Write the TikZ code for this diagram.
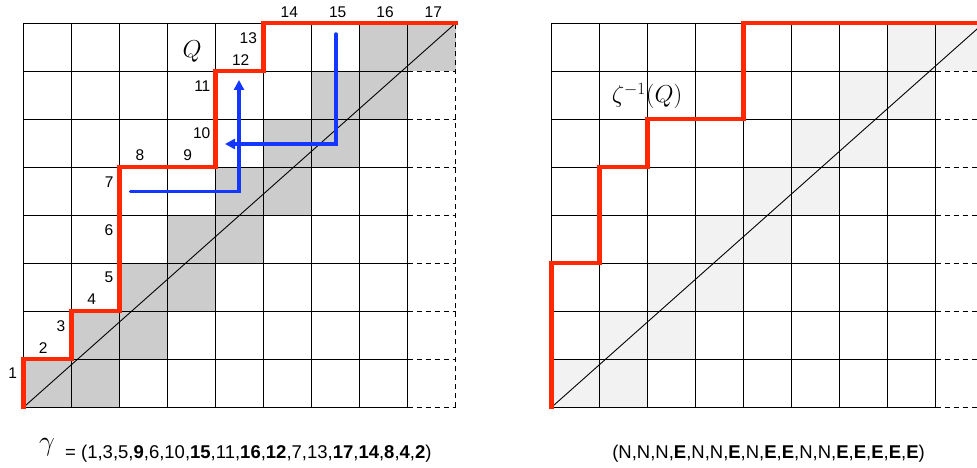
\RequirePackage{fix-cm}
\documentclass[tikz,border=0pt]{standalone}
\usepackage{fontspec}
\setmainfont{Liberation Sans}
\usetikzlibrary{arrows.meta}
\definecolor{pathred}{RGB}{255,40,0}
\definecolor{arrowblue}{RGB}{20,55,255}
\definecolor{cellgray}{RGB}{204,204,204}
\definecolor{cellpale}{RGB}{242,242,242}
\begin{document}
\begin{tikzpicture}[x=1pt,y=-1pt,
  gridline/.style={line width=1.3pt},
  dashline/.style={line width=1.3pt, dash pattern=on 5pt off 4pt},
  diagline/.style={line width=0.9pt},
  redpath/.style={draw=pathred, line width=4.2pt, line join=miter, line cap=rect},
  bluearrow/.style={draw=arrowblue, line width=3.5pt, line cap=round, line join=miter, -{Triangle[length=10pt,width=10pt]}},
  steplabel/.style={font=\fontsize{15.5}{18}\selectfont, inner sep=0pt},
  mathlabel/.style={font=\fontsize{24.5}{28}\selectfont, inner sep=0pt},
  seqtext/.style={font=\fontsize{18.5}{22}\selectfont, inner sep=0pt}
  ]
\useasboundingbox (0,0) rectangle (977,468);
\clip (0,0) rectangle (977,468);

% ---------- left grid ----------
\begin{scope}[shift={(23.5,407.3)}, x=48pt, y=48pt]
  \foreach \r in {0,...,7} \fill[cellgray] (\r,\r) rectangle (\r+2,\r+1);
  \foreach \i in {0,...,8} \draw[gridline] (\i,0) -- (\i,8);
  \foreach \j in {0,...,8} \draw[gridline] (0,\j) -- (8,\j);
  \foreach \j in {0,...,8} \draw[dashline] (8,\j) -- (9,\j);
  \draw[dashline] (9,0) -- (9,8);
  \draw[diagline] (0,0) -- (9,8);
  \draw[redpath] (0,0) -- (0,1) -- (1,1) -- (1,2) -- (2,2) -- (2,5) -- (4,5) -- (4,7) -- (5,7) -- (5,8) -- (9,8);
\end{scope}

% ---------- right grid ----------
\begin{scope}[shift={(551.5,407.3)}, x=48pt, y=48pt]
  \foreach \r in {0,...,7} \fill[cellpale] (\r,\r) rectangle (\r+2,\r+1);
  \foreach \i in {0,...,8} \draw[gridline] (\i,0) -- (\i,8);
  \foreach \j in {0,...,8} \draw[gridline] (0,\j) -- (8,\j);
  \foreach \j in {0,...,8} \draw[dashline] (8,\j) -- (9,\j);
  \draw[dashline] (9,0) -- (9,8);
  \draw[diagline] (0,0) -- (9,8);
  \draw[redpath] (0,0) -- (0,3) -- (1,3) -- (1,5) -- (2,5) -- (2,6) -- (4,6) -- (4,8) -- (9,8);
\end{scope}

% ---------- blue arrows ----------
\coordinate (a1s) at (130.5,191.7);
\coordinate (a1c) at (239,191.7);
\coordinate (a1e) at (239,80);
\draw[bluearrow] (a1s) -- (a1c) -- (a1e);
\coordinate (a2s) at (336,34);
\coordinate (a2c) at (336,144);
\coordinate (a2e) at (225,144);
\draw[bluearrow] (a2s) -- (a2c) -- (a2e);

% ---------- step labels ----------
\node[steplabel] (n1) at (12.7,373) {1};
\node[steplabel] (n2) at (43.3,347.7) {2};
\node[steplabel] (n3) at (61,326) {3};
\node[steplabel] (n4) at (91.7,299.3) {4};
\node[steplabel] (n5) at (109,277.7) {5};
\node[steplabel] (n6) at (109,230) {6};
\node[steplabel] (n7) at (109.3,181.7) {7};
\node[steplabel] (n8) at (140,155) {8};
\node[steplabel] (n9) at (187.7,155) {9};
\node[steplabel] (n10) at (201.7,133.3) {10};
\node[steplabel] (n11) at (202.3,85.7) {11};
\node[steplabel] (n12) at (240.7,60) {12};
\node[steplabel] (n13) at (248.3,37.7) {13};
\node[steplabel] (n14) at (289.3,12.3) {14};
\node[steplabel] (n15) at (337.7,12.3) {15};
\node[steplabel] (n16) at (385,12.3) {16};
\node[steplabel] (n17) at (433.3,12.3) {17};

% ---------- math labels ----------
\node[mathlabel] (qlabel) at (192,52) {$Q$};
\node[mathlabel] (zlabel) at (647,96) {$\zeta^{-1}(Q)$};

% ---------- sequences ----------
\node[font=\fontsize{28}{32}\selectfont, inner sep=0pt] (gam) at (47,447) {$\gamma$};
\node[seqtext, anchor=base west] (gtext) at (65,458) {= (1,3,5,\textbf{9},6,10,\textbf{15},11,\textbf{16},\textbf{12},7,13,\textbf{17},\textbf{14},\textbf{8},\textbf{4},\textbf{2})};
\node[seqtext, anchor=base] (ntext) at (768.5,458) {(N,N,N,\textbf{E},N,N,\textbf{E},N,\textbf{E},\textbf{E},N,N,\textbf{E},\textbf{E},\textbf{E},\textbf{E},\textbf{E})};
\end{tikzpicture}
\end{document}
